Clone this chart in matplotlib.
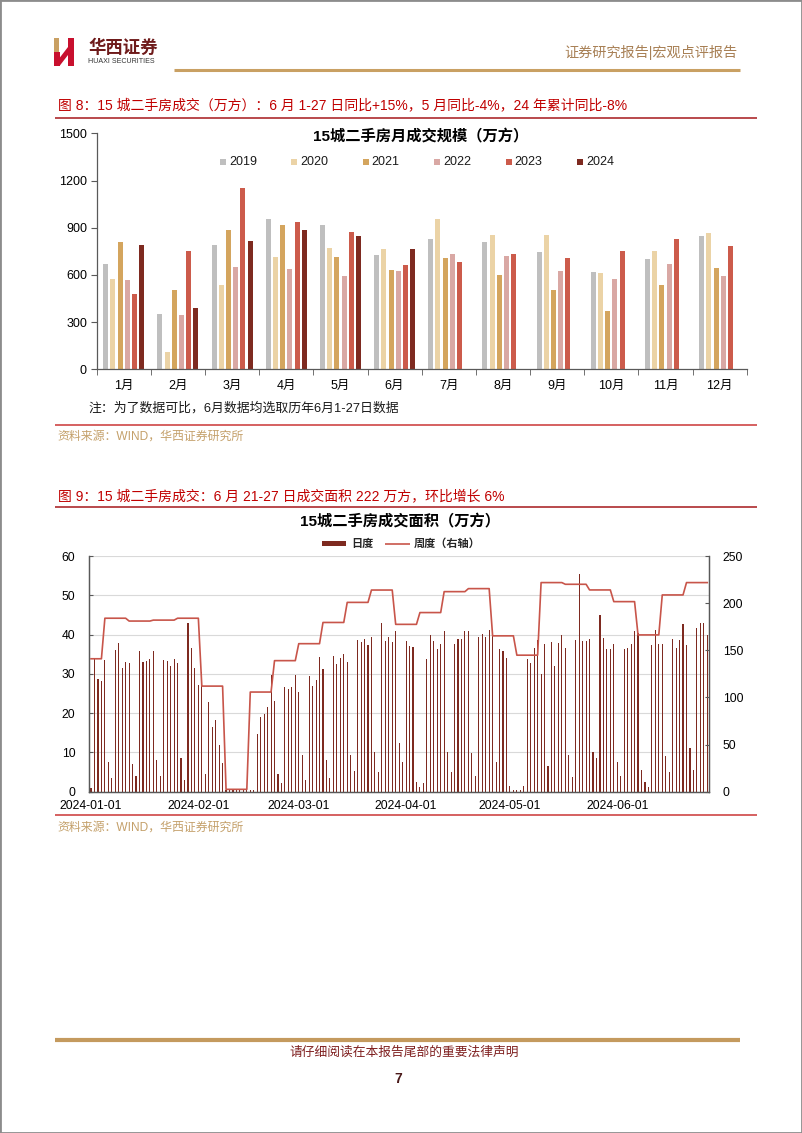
import numpy as np
import pandas as pd
import matplotlib
matplotlib.use('Agg')
import matplotlib.pyplot as plt
from matplotlib.patches import Rectangle, Polygon
from matplotlib.lines import Line2D

plt.rcParams['font.family'] = ['Liberation Sans', 'Noto Sans CJK SC']
plt.rcParams['axes.unicode_minus'] = False

# ---------------- data ----------------
months = ['1月', '2月', '3月', '4月', '5月', '6月', '7月', '8月', '9月', '10月', '11月', '12月']
years = ['2019', '2020', '2021', '2022', '2023', '2024']
v2019 = [668, 350, 792, 957, 918, 725, 830, 812, 745, 620, 700, 848]
v2020 = [575, 112, 535, 712, 772, 765, 955, 855, 855, 612, 750, 868]
v2021 = [812, 502, 885, 918, 715, 630, 705, 600, 505, 370, 535, 645]
v2022 = [567, 342, 650, 638, 592, 622, 733, 720, 622, 575, 668, 592]
v2023 = [478, 752, 1150, 937, 873, 662, 680, 735, 708, 752, 830, 785]
v2024 = [790, 388, 818, 885, 850, 765]

daily_start = '2024-01-01'
daily_jan = [1.0, 33.8, 28.7, 28.3, 33.5, 7.5, 3.4, 36.0, 37.8, 31.5, 33.0, 32.7, 7.0, 4.0,
             35.8, 33.0, 33.2, 33.7, 35.8, 8.0, 4.0, 33.6, 33.2, 32.0, 33.7, 32.7, 8.7, 3.0,
             42.9, 36.6, 31.5]
daily_feb = [27.2, 30.4, 4.4, 22.8, 16.5, 18.2, 12.0, 7.4, 0.4, 0.4, 0.4, 0.4, 0.4, 0.4,
             0.4, 0.4, 0.4, 14.8, 19.0, 19.7, 21.5, 29.8, 23.0, 4.6, 2.3, 26.6, 26.2, 26.6, 29.8]
daily_mar = [25.4, 9.3, 3.0, 29.4, 26.9, 28.5, 34.4, 31.3, 8.0, 3.6, 34.5, 32.5, 34.0, 35.0,
             33.1, 9.3, 5.2, 38.6, 38.2, 38.9, 37.4, 39.5, 10.0, 4.9, 42.9, 38.3, 39.5, 38.2,
             41.0, 12.5, 7.6]
daily_apr = [38.4, 37.1, 36.8, 2.5, 1.3, 2.1, 33.7, 39.9, 38.4, 36.3, 37.7, 40.9, 10.2, 4.9,
             37.5, 38.8, 38.8, 41.0, 41.0, 9.8, 4.1, 39.5, 40.2, 39.3, 41.2, 39.8, 7.5, 36.2,
             35.8, 34.0]
daily_may = [1.5, 0.4, 0.4, 0.4, 1.5, 33.9, 32.8, 36.7, 38.5, 30.0, 37.5, 6.6, 38.0, 32.0,
             37.8, 39.8, 36.5, 9.4, 3.8, 38.6, 55.3, 38.4, 38.4, 38.8, 10.2, 8.6, 45.0, 39.0,
             36.3, 36.3, 37.7]
daily_jun = [7.6, 4.1, 36.3, 36.7, 37.7, 40.8, 40.3, 5.5, 2.5, 1.1, 37.4, 41.2, 37.5, 37.7,
             9.2, 4.9, 38.8, 36.5, 38.6, 42.8, 37.3, 11.1, 5.5, 41.6, 42.9, 42.9, 39.9]

weekly_dates = ['2023-12-29', '2024-01-05', '2024-01-12', '2024-01-19', '2024-01-26',
                '2024-02-02', '2024-02-09', '2024-02-16', '2024-02-23', '2024-03-01',
                '2024-03-08', '2024-03-15', '2024-03-22', '2024-03-29', '2024-04-05',
                '2024-04-12', '2024-04-19', '2024-04-26', '2024-05-03', '2024-05-10',
                '2024-05-17', '2024-05-24', '2024-05-31', '2024-06-07', '2024-06-14',
                '2024-06-21']
weekly_vals = [141, 184, 181, 182, 184, 112, 2.5, 105.7, 139, 157, 179.5, 200.8, 213.9,
               177.5, 190, 212.2, 215.4, 165.3, 144.8, 221.8, 220, 214, 201.6, 166.3,
               208.7, 221.8]

# ---------------- figure ----------------
W, H = 802, 1133
fig = plt.figure(figsize=(W / 100, H / 100), dpi=100)
fig.patch.set_facecolor('white')


def fx(x):
    return x / W


def fy(y):
    return 1 - y / H


def hline(x0, x1, y, color, lw):
    fig.add_artist(Line2D([fx(x0), fx(x1)], [fy(y), fy(y)], color=color, lw=lw,
                          transform=fig.transFigure, solid_capstyle='butt'))


def text(x, y, s, **kw):
    kw.setdefault('va', 'center')
    fig.text(fx(x), fy(y), s, **kw)


def rect(x0, y0, x1, y1, color):
    fig.add_artist(Rectangle((fx(x0), fy(y1)), (x1 - x0) / W, (y1 - y0) / H,
                             transform=fig.transFigure, color=color, lw=0))


# page border
fig.add_artist(Rectangle((0, 0), 1, 1, transform=fig.transFigure, fill=False,
                         edgecolor='#8c8c8c', lw=2))

# logo
rect(54, 38, 59, 52, '#C9A063')
rect(54, 52, 59.5, 66, '#C8102E')
rect(68, 38, 74, 66, '#C8102E')
fig.add_artist(Polygon([(fx(59.5), fy(58)), (fx(68), fy(47)), (fx(68), fy(55)),
                        (fx(59.5), fy(66))], closed=True, transform=fig.transFigure,
                       color='#C8102E', lw=0))
text(88, 47, '华西证券', fontsize=12.5, fontweight='bold', color='#6E1A1A')
text(88, 61.5, 'HUAXI SECURITIES', fontsize=5.1, color='#333333')

text(737, 53, '证券研究报告|宏观点评报告', fontsize=10.2, color='#A88055', ha='right')
hline(174, 740, 69.5, '#C9A063', 2.2)

# figure 8 caption
text(58, 105, '图 8：15 城二手房成交（万方）：6 月 1-27 日同比+15%，5 月同比-4%，24 年累计同比-8%',
     fontsize=10, color='#C00000')
hline(55, 757, 117.5, '#A5171B', 1.1)

# ---------------- top chart ----------------
ax1 = fig.add_axes([fx(96.7), fy(369.3), (746.7 - 96.7) / W, (369.3 - 133.3) / H])
series = [v2019, v2020, v2021, v2022, v2023, v2024]
colors = ['#BFBFBF', '#EBD3A6', '#D4A55E', '#D9A8A4', '#CC5B4B', '#7E2A20']
bw, pitch = 0.092, 0.133
for k, (vals, c) in enumerate(zip(series, colors)):
    xs = np.arange(len(vals)) + (k - 2.5) * pitch
    ax1.bar(xs, vals, width=bw, color=c, linewidth=0)
ax1.set_xlim(-0.5, 11.5)
ax1.set_ylim(0, 1500)
ax1.set_yticks(range(0, 1501, 300))
ax1.set_xticks(np.arange(12))
ax1.set_xticklabels(months)
ax1.set_xticks(np.arange(-0.5, 12, 1), minor=True)
ax1.tick_params(axis='x', which='major', length=0, pad=8, labelsize=9, colors='#000000')
ax1.tick_params(axis='x', which='minor', length=4, direction='out', color='#595959')
ax1.tick_params(axis='y', length=4, direction='out', color='#595959', labelsize=9, pad=3)
for s in ['top', 'right']:
    ax1.spines[s].set_visible(False)
for s in ['left', 'bottom']:
    ax1.spines[s].set_color('#595959')
    ax1.spines[s].set_linewidth(0.9)

text(421, 137, '15城二手房月成交规模（万方）', fontsize=11, fontweight='bold', ha='center')
for k, (yr, c) in enumerate(zip(years, colors)):
    x0 = 220 + k * 71.4
    rect(x0, 159, x0 + 6, 165, c)
    text(x0 + 9, 162, yr, fontsize=9, color='#1a1a1a')

text(88, 408, '注：为了数据可比，6月数据均选取历年6月1-27日数据', fontsize=9.3, color='#1a1a1a')
hline(55, 757, 425, '#D25454', 1.3)
text(57, 437, '资料来源：WIND，华西证券研究所', fontsize=8.6, color='#C4A06A')

# figure 9 caption
text(58, 496, '图 9：15 城二手房成交：6 月 21-27 日成交面积 222 万方，环比增长 6%',
     fontsize=10, color='#C00000')
hline(55, 757, 506.5, '#A5171B', 1.1)

# ---------------- bottom chart ----------------
daily = daily_jan + daily_feb + daily_mar + daily_apr + daily_may + daily_jun
dates = pd.date_range(daily_start, periods=len(daily), freq='D')
idx = np.arange(len(daily))

ax2 = fig.add_axes([fx(89.3), fy(791.7), (709 - 89.3) / W, (791.7 - 556) / H])
ax2.bar(idx, daily, width=0.32, color='#7E2A20', linewidth=0, zorder=2)
ax2.set_xlim(-0.5, len(daily) - 0.5)
ax2.set_ylim(0, 60)
ax2.set_yticks(range(0, 61, 10))
ax2.grid(axis='y', color='#D9D9D9', lw=0.8, zorder=0)
ax2.set_axisbelow(True)
tick_pos = [i for i, d in enumerate(dates) if d.day == 1]
ax2.set_xticks(tick_pos)
ax2.set_xticklabels([dates[i].strftime('%Y-%m-%d') for i in tick_pos])
ax2.tick_params(axis='x', length=0, pad=6, labelsize=8.7)
ax2.tick_params(axis='y', length=3, direction='in', color='#595959', labelsize=8.7, pad=10)

wk = pd.Series(weekly_vals, index=pd.to_datetime(weekly_dates))
wk_daily = wk.reindex(wk.index.union(dates)).ffill().reindex(dates)
ax3 = ax2.twinx()
ax3.plot(idx, wk_daily.values, color='#C8554A', lw=1.2)
ax3.set_ylim(0, 250)
ax3.set_yticks(range(0, 251, 50))
ax3.tick_params(axis='y', length=3, direction='in', color='#595959', labelsize=8.7, pad=10)
for a in (ax2, ax3):
    a.spines['top'].set_visible(False)
    for s in ['left', 'right', 'bottom']:
        a.spines[s].set_color('#595959')
        a.spines[s].set_linewidth(0.9)

text(400, 522, '15城二手房成交面积（万方）', fontsize=11, fontweight='bold', ha='center')
rect(322, 541, 346, 546, '#7E2A20')
text(351, 543.5, '日度', fontsize=8, color='#262626', fontweight='bold')
hline(385, 410, 543.5, '#C8554A', 1.2)
text(414, 543.5, '周度（右轴）', fontsize=8, color='#262626', fontweight='bold')

hline(55, 757, 815, '#D25454', 1.3)
text(57, 828, '资料来源：WIND，华西证券研究所', fontsize=8.6, color='#C4A06A')

# footer
hline(55, 740, 1040, '#C49A5E', 3)
text(404, 1053, '请仔细阅读在本报告尾部的重要法律声明', fontsize=9.2, color='#7F1F1F', ha='center')
text(398, 1079, '7', fontsize=10, fontweight='bold', color='#4a1a1a', ha='center')

fig.savefig('out.png', dpi=100, facecolor='white')
